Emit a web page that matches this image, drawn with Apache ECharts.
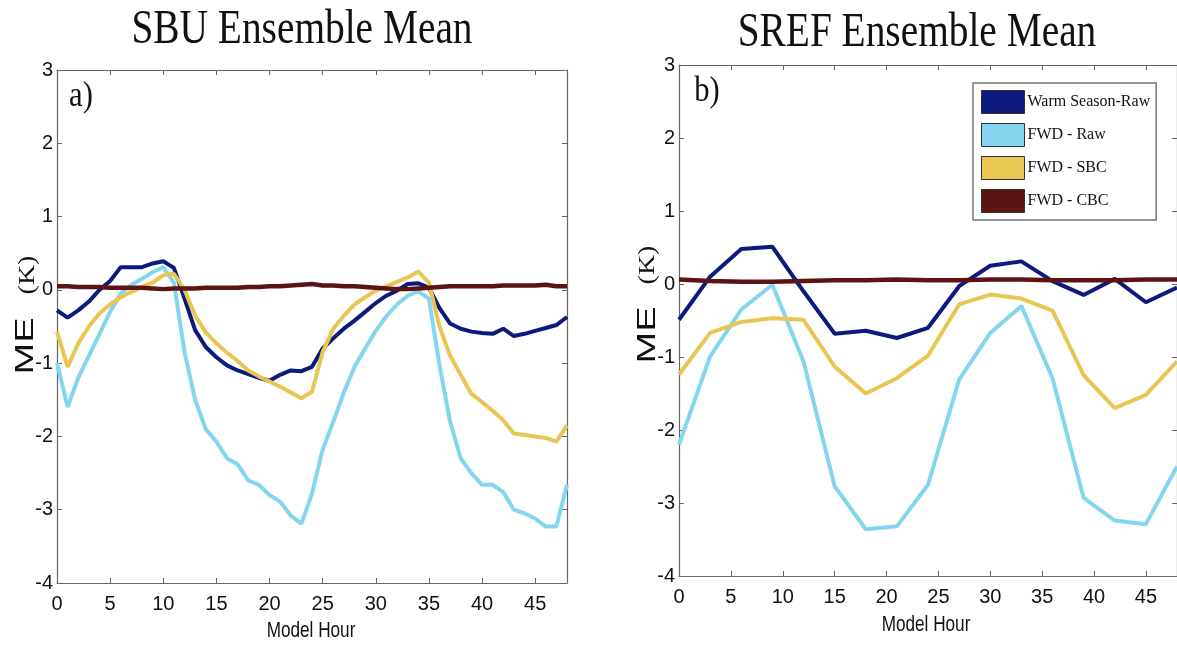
<!DOCTYPE html>
<html>
<head>
<meta charset="utf-8">
<script src="https://cdn.jsdelivr.net/npm/echarts@6/dist/echarts.min.js"></script>
<style>html,body{margin:0;padding:0;background:#fff;}#c{width:1177px;height:646px;}</style>
</head>
<body>
<div id="c"></div>
<script>
// ---- Data (panel a: SBU Ensemble Mean, hourly) ----
const hoursSBU = [0,1,2,3,4,5,6,7,8,9,10,11,12,13,14,15,16,17,18,19,20,21,22,23,24,25,26,27,28,29,30,31,32,33,34,35,36,37,38,39,40,41,42,43,44,45,46,47,48];
const sbuWarmRaw = [-0.28,-0.38,-0.28,-0.16,0.0,0.12,0.31,0.31,0.31,0.36,0.39,0.30,-0.12,-0.55,-0.78,-0.92,-1.03,-1.10,-1.15,-1.20,-1.24,-1.16,-1.10,-1.11,-1.05,-0.80,-0.66,-0.53,-0.42,-0.30,-0.18,-0.08,-0.01,0.08,0.09,0.03,-0.25,-0.46,-0.53,-0.57,-0.59,-0.60,-0.53,-0.63,-0.60,-0.56,-0.52,-0.48,-0.37];
const sbuFwdRaw = [-1.00,-1.60,-1.20,-0.90,-0.60,-0.30,-0.05,0.07,0.15,0.24,0.31,0.10,-0.85,-1.50,-1.90,-2.07,-2.30,-2.38,-2.60,-2.66,-2.80,-2.89,-3.08,-3.19,-2.78,-2.18,-1.80,-1.40,-1.05,-0.80,-0.56,-0.36,-0.20,-0.08,-0.02,-0.12,-1.03,-1.80,-2.30,-2.50,-2.66,-2.66,-2.76,-3.00,-3.05,-3.12,-3.23,-3.23,-2.66];
const sbuFwdSBC = [-0.57,-1.05,-0.73,-0.50,-0.32,-0.20,-0.10,-0.03,0.04,0.10,0.20,0.22,0.00,-0.35,-0.58,-0.73,-0.86,-0.97,-1.10,-1.18,-1.25,-1.32,-1.40,-1.48,-1.39,-0.85,-0.53,-0.35,-0.20,-0.10,-0.01,0.05,0.11,0.17,0.25,0.10,-0.50,-0.90,-1.16,-1.42,-1.53,-1.65,-1.78,-1.96,-1.98,-2.00,-2.02,-2.07,-1.85];
const sbuFwdCBC = [0.05,0.05,0.04,0.04,0.04,0.03,0.03,0.03,0.03,0.02,0.01,0.02,0.02,0.02,0.03,0.03,0.03,0.03,0.04,0.04,0.05,0.05,0.06,0.07,0.08,0.06,0.06,0.05,0.05,0.04,0.03,0.02,0.01,0.01,0.02,0.03,0.04,0.05,0.05,0.05,0.05,0.05,0.06,0.06,0.06,0.06,0.07,0.05,0.05];

// ---- Data (panel b: SREF Ensemble Mean, 3-hourly) ----
const hoursSREF = [0,3,6,9,12,15,18,21,24,27,30,33,36,39,42,45,48];
const srefWarmRaw = [-0.49,0.10,0.48,0.51,-0.10,-0.68,-0.64,-0.74,-0.60,-0.03,0.25,0.31,0.04,-0.15,0.07,-0.25,-0.05];
const srefFwdRaw = [-2.20,-0.99,-0.35,-0.01,-1.06,-2.77,-3.36,-3.32,-2.75,-1.31,-0.67,-0.30,-1.29,-2.93,-3.24,-3.29,-2.50];
const srefFwdSBC = [-1.24,-0.67,-0.52,-0.47,-0.49,-1.13,-1.50,-1.29,-0.98,-0.28,-0.145,-0.20,-0.365,-1.25,-1.70,-1.52,-1.06];
const srefFwdCBC = [0.06,0.04,0.03,0.03,0.04,0.05,0.05,0.06,0.05,0.05,0.06,0.06,0.05,0.05,0.05,0.06,0.06];

const seriesNames = ['Warm Season-Raw','FWD - Raw','FWD - SBC','FWD - CBC'];
const titles = ['SBU Ensemble Mean', 'SREF Ensemble Mean'];
const panelLabels = ['a)', 'b)'];
const xName = 'Model Hour';

const colors = ['#0c1a7e','#84d6f0','#e9c653','#5c1313'];
const zip = (xs, ys) => xs.map((x, i) => [x, ys[i]]);

const frameColor = '#666';
const tickFont = "'Liberation Sans Narrow','Liberation Sans',Arial,sans-serif";

function xAxisBottom(gi) {
  return {
    type: 'value', gridIndex: gi, position: 'bottom', min: 0, max: 48, interval: 5,
    axisLine: { show: true, onZero: false, lineStyle: { color: frameColor, width: 1.2 } },
    axisTick: { show: true, inside: true, length: 5, lineStyle: { color: frameColor } },
    axisLabel: { show: true, showMaxLabel: false, margin: 11, color: '#111', fontFamily: tickFont, fontSize: 20 },
    splitLine: { show: false }
  };
}
function xAxisTop(gi) {
  return {
    type: 'value', gridIndex: gi, position: 'top', min: 0, max: 48, interval: 5,
    axisLine: { show: true, onZero: false, lineStyle: { color: frameColor, width: 1.2 } },
    axisTick: { show: true, inside: true, length: 5, lineStyle: { color: frameColor } },
    axisLabel: { show: false }, splitLine: { show: false }
  };
}
function yAxisLeft(gi) {
  return {
    type: 'value', gridIndex: gi, position: 'left', min: -4, max: 3, interval: 1,
    axisLine: { show: true, onZero: false, lineStyle: { color: frameColor, width: 1.2 } },
    axisTick: { show: true, inside: true, length: 5, lineStyle: { color: frameColor } },
    axisLabel: { show: true, margin: 4, color: '#111', fontFamily: tickFont, fontSize: 20 },
    splitLine: { show: false }
  };
}
function yAxisRight(gi) {
  return {
    type: 'value', gridIndex: gi, position: 'right', min: -4, max: 3, interval: 1,
    axisLine: { show: true, onZero: false, lineStyle: { color: frameColor, width: 1.2 } },
    axisTick: { show: true, inside: true, length: 5, lineStyle: { color: frameColor } },
    axisLabel: { show: false }, splitLine: { show: false }
  };
}

function mkSeries(gi, xs, arrs) {
  return arrs.map((arr, i) => ({
    name: seriesNames[i], type: 'line',
    xAxisIndex: gi * 2, yAxisIndex: gi * 2,
    data: zip(xs, arr), showSymbol: false, symbol: 'none', silent: true,
    lineStyle: { color: colors[i], width: i === 3 ? 4.5 : 4 },
    itemStyle: { color: colors[i] },
    z: 2 + i
  }));
}

const chart = echarts.init(document.getElementById('c'), null, { renderer: 'canvas' });
const serif = "'Liberation Serif','Times New Roman',serif";
const sans = "'Liberation Sans',Arial,sans-serif";

function txt(x, y, text, font, extra) {
  return Object.assign({
    type: 'text', x: x, y: y,
    style: { text: text, font: font, fill: '#111', textAlign: 'center', textVerticalAlign: 'middle' }
  }, extra || {});
}

const option = {
  animation: false,
  backgroundColor: '#fff',
  color: colors,
  grid: [
    { left: 57, top: 70, width: 510, height: 513, containLabel: false },
    { left: 679, top: 65, width: 500, height: 511, containLabel: false }
  ],
  xAxis: [xAxisBottom(0), xAxisTop(0), xAxisBottom(1), xAxisTop(1)],
  yAxis: [yAxisLeft(0), yAxisRight(0), yAxisLeft(1), yAxisRight(1)],
  legend: {
    data: seriesNames,
    orient: 'vertical', left: 973, top: 83,
    itemWidth: 43, itemHeight: 23, itemGap: 9,
    padding: [7, 6, 7, 8],
    icon: 'rect',
    borderColor: '#777', borderWidth: 1.5, backgroundColor: '#fff',
    itemStyle: { borderColor: '#333', borderWidth: 1 },
    textStyle: { fontFamily: serif, fontSize: 16, color: '#111', padding: [0, 0, 0, -2] },
    selectedMode: false
  },
  series: [].concat(
    mkSeries(0, hoursSBU, [sbuWarmRaw, sbuFwdRaw, sbuFwdSBC, sbuFwdCBC]),
    mkSeries(1, hoursSREF, [srefWarmRaw, srefFwdRaw, srefFwdSBC, srefFwdCBC])
  ),
  graphic: [
    txt(302, 30, titles[0], '48px ' + serif, { scaleX: 0.82 }),
    txt(917, 33, titles[1], '48px ' + serif, { scaleX: 0.82 }),
    txt(81, 97, panelLabels[0], '36px ' + serif, { scaleX: 0.85 }),
    txt(707, 92, panelLabels[1], '36px ' + serif, { scaleX: 0.85 }),
    txt(26, 346, 'ME', '38px ' + sans, { rotation: Math.PI / 2, scaleY: 0.68 }),
    txt(28, 275, '(K)', '28px ' + serif, { rotation: Math.PI / 2, scaleY: 0.8 }),
    txt(648, 335, 'ME', '38px ' + sans, { rotation: Math.PI / 2, scaleY: 0.68 }),
    txt(648, 265, '(K)', '28px ' + serif, { rotation: Math.PI / 2, scaleY: 0.8 }),
    txt(311, 631, xName, '22px ' + sans, { scaleX: 0.78 }),
    txt(926, 625, xName, '22px ' + sans, { scaleX: 0.78 })
  ]
};
chart.setOption(option);
</script>
</body>
</html>
